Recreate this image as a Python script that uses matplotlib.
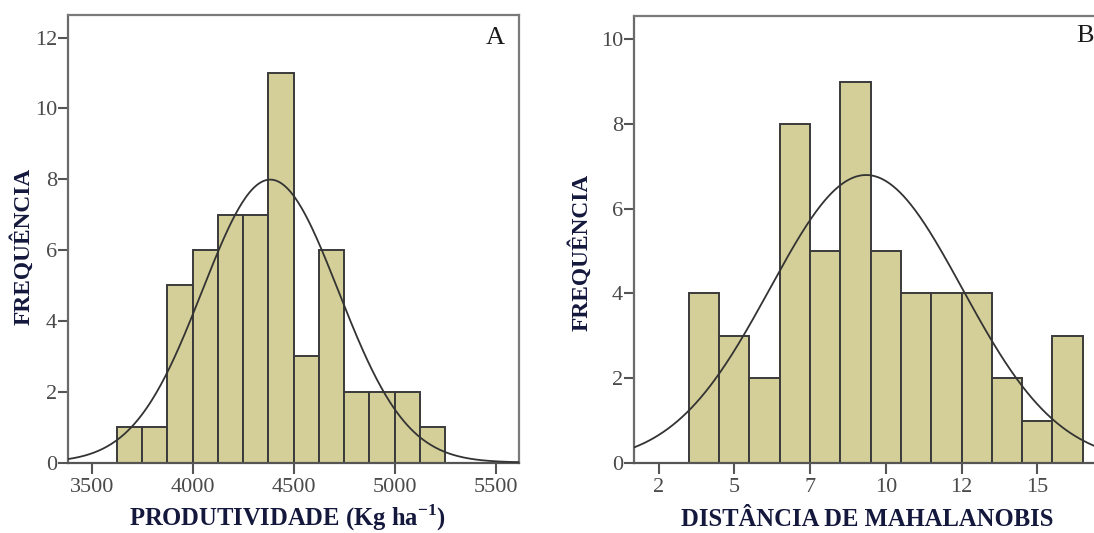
import numpy as np
import matplotlib
matplotlib.use("Agg")
import matplotlib.pyplot as plt

plt.rcParams['font.family'] = ['Liberation Serif', 'DejaVu Serif']
plt.rcParams['mathtext.fontset'] = 'custom'
plt.rcParams['mathtext.rm'] = 'Liberation Serif:bold'
plt.rcParams['mathtext.bf'] = 'Liberation Serif:bold'

# Panel A: yield (kg/ha)
prod_edges = [3625, 3750, 3875, 4000, 4125, 4250, 4375, 4500, 4625, 4750, 4875, 5000, 5125, 5250]
prod_counts = [1, 1, 5, 6, 7, 7, 11, 3, 6, 2, 2, 2, 1]
prod_mean, prod_sd = 4384, 337
prod_xticks = [3500, 4000, 4500, 5000, 5500]
prod_xticklabels = ['3500', '4000', '4500', '5000', '5500']
prod_yticks = [0, 2, 4, 6, 8, 10, 12]

# Panel B: Mahalanobis distance
maha_edges = [3.5, 4.5, 5.5, 6.5, 7.5, 8.5, 9.5, 10.5, 11.5, 12.5, 13.5, 14.5, 15.5, 16.5]
maha_counts = [4, 3, 2, 8, 5, 9, 5, 4, 4, 4, 2, 1, 3]
maha_mean, maha_sd = 9.35, 3.17
maha_xticks = [2.5, 5.0, 7.5, 10.0, 12.5, 15.0]
maha_xticklabels = ['2', '5', '7', '10', '12', '15']
maha_yticks = [0, 2, 4, 6, 8, 10]

BAR_FILL = '#d4cf99'
BAR_EDGE = '#3a3a3a'
LABEL_COLOR = '#14183c'
TICK_COLOR = '#4a4a4a'

W, H = 1094, 533
fig = plt.figure(figsize=(W / 100, H / 100), dpi=100)


def px_axes(l, r, t, b):
    return fig.add_axes([l / W, 1 - b / H, (r - l) / W, (b - t) / H])


def px_text(x, y, s, **kw):
    fig.text(x / W, 1 - y / H, s, **kw)


def draw_panel(ax, edges, counts, mean, sd, xlim, ylim, xticks, xticklabels, yticks):
    edges = np.asarray(edges, float)
    counts = np.asarray(counts, float)
    widths = np.diff(edges)
    ax.bar(edges[:-1], counts, width=widths, align='edge', color=BAR_FILL,
           edgecolor=BAR_EDGE, linewidth=1.4, zorder=2)
    n = counts.sum()
    bw = widths[0]
    xs = np.linspace(xlim[0], xlim[1], 400)
    ys = n * bw / (sd * np.sqrt(2 * np.pi)) * np.exp(-0.5 * ((xs - mean) / sd) ** 2)
    ax.plot(xs, ys, color='#333333', linewidth=1.3, zorder=3)
    ax.set_xlim(*xlim)
    ax.set_ylim(*ylim)
    ax.set_xticks(xticks)
    ax.set_xticklabels(xticklabels)
    ax.set_yticks(yticks)
    for s in ax.spines.values():
        s.set_color('#7a7a7a')
        s.set_linewidth(1.6)
    ax.spines['left'].set_color('#6a6a6a')
    ax.spines['bottom'].set_color('#555555')
    ax.tick_params(axis='both', direction='out', colors='#555555', width=1.5,
                   labelcolor=TICK_COLOR, labelsize=16)
    ax.tick_params(axis='x', length=8, pad=3)
    ax.tick_params(axis='y', length=7, pad=1)


ax_a = px_axes(68, 519, 15, 462.5)
draw_panel(ax_a, prod_edges, prod_counts, prod_mean, prod_sd,
           (3383, 5615), (0, 12.64), prod_xticks, prod_xticklabels, prod_yticks)

ax_b = px_axes(634, 1100, 15.5, 463)
draw_panel(ax_b, maha_edges, maha_counts, maha_mean, maha_sd,
           (1.69, 17.07), (0, 10.56), maha_xticks, maha_xticklabels, maha_yticks)

label_kw = dict(fontweight='bold', color=LABEL_COLOR)
px_text(287.5, 525.5, r'PRODUTIVIDADE (Kg ha$^{\mathbf{-1}}$)', fontsize=17.7,
        ha='center', va='baseline', **label_kw)
px_text(867, 525.5, 'DISTÂNCIA DE MAHALANOBIS', fontsize=17.7,
        ha='center', va='baseline', **label_kw)
px_text(23, 246, 'FREQUÊNCIA', fontsize=16.8, rotation=90,
        ha='center', va='center', **label_kw)
px_text(581, 252, 'FREQUÊNCIA', fontsize=16.8, rotation=90,
        ha='center', va='center', **label_kw)

# Panel tags
px_text(495, 38, 'A', fontsize=19, color='#1a1a1a', ha='center', va='center')
px_text(1085, 36, 'B', fontsize=19, color='#1a1a1a', ha='center', va='center')

fig.savefig('out.png', dpi=100)
